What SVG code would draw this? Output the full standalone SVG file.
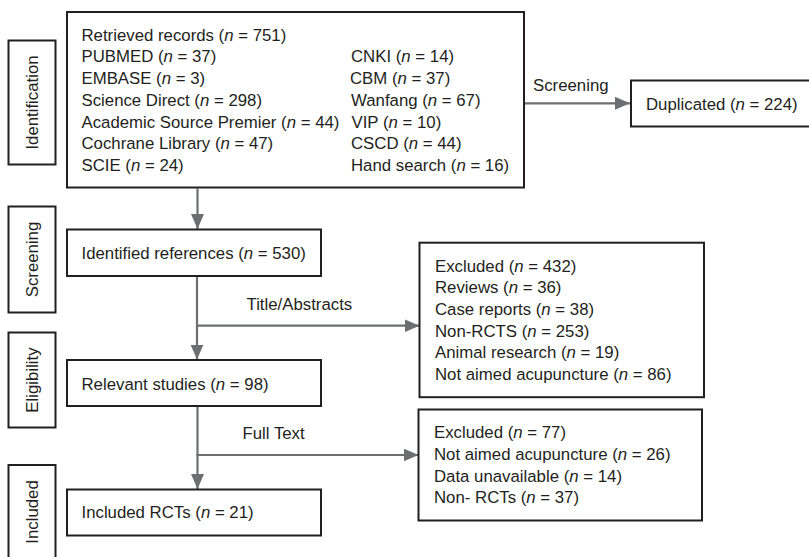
<svg xmlns="http://www.w3.org/2000/svg" width="809" height="557" viewBox="0 0 809 557">
<defs>
<style>
.box{fill:#fff;stroke:#231f20;stroke-width:2}
.t{font-family:"Liberation Sans",Arial,sans-serif;font-size:16.8px;fill:#231f20}
.i{font-style:italic}
.c{fill:none;stroke:#6d6e71;stroke-width:2.2}
</style>
<marker id="ah" markerUnits="userSpaceOnUse" markerWidth="16" markerHeight="14" refX="15" refY="6.5" orient="auto">
<path d="M0,0 L15,6.5 L0,13 Z" fill="#6d6e71"/>
</marker>
</defs>
<rect width="809" height="557" fill="#fff"/>

<g id="connectors">
<line class="c" x1="525" y1="103.3" x2="630" y2="103.3" marker-end="url(#ah)"/>
<line class="c" x1="197.5" y1="188.5" x2="197.5" y2="229" marker-end="url(#ah)"/>
<line class="c" x1="197" y1="276.5" x2="197" y2="359.5" marker-end="url(#ah)"/>
<line class="c" x1="196" y1="325.7" x2="419.5" y2="325.7" marker-end="url(#ah)"/>
<line class="c" x1="197.5" y1="406.5" x2="197.5" y2="489" marker-end="url(#ah)"/>
<line class="c" x1="196.5" y1="455" x2="418.5" y2="455" marker-end="url(#ah)"/>
<text class="t" x="533" y="91">Screening</text>
<text class="t" x="246.5" y="310">Title/Abstracts</text>
<text class="t" x="242.5" y="439">Full Text</text>
</g>

<g id="stage-identification">
<rect class="box" x="8.5" y="40.5" width="47" height="124"/>
<text class="t" transform="translate(37.5,102.5) rotate(-90)" text-anchor="middle">Identification</text>
</g>
<g id="stage-screening">
<rect class="box" x="8.5" y="206.5" width="47" height="106"/>
<text class="t" transform="translate(37.5,259.5) rotate(-90)" text-anchor="middle">Screening</text>
</g>
<g id="stage-eligibility">
<rect class="box" x="8.5" y="332.5" width="47" height="95"/>
<text class="t" transform="translate(37.5,380) rotate(-90)" text-anchor="middle">Eligibility</text>
</g>
<g id="stage-included">
<rect class="box" x="8.5" y="465" width="47" height="100"/>
<text class="t" transform="translate(37.5,512) rotate(-90)" text-anchor="middle">Included</text>
</g>

<g id="retrieved">
<rect class="box" x="67" y="12" width="457" height="175.5"/>
<text class="t" x="81.5" y="40.7">Retrieved records (<tspan class="i">n</tspan> = 751)</text>
<text class="t" x="81.5" y="62.4">PUBMED (<tspan class="i">n</tspan> = 37)</text>
<text class="t" x="81.5" y="84.1">EMBASE (<tspan class="i">n</tspan> = 3)</text>
<text class="t" x="81.5" y="105.8">Science Direct (<tspan class="i">n</tspan> = 298)</text>
<text class="t" x="81.5" y="127.5">Academic Source Premier (<tspan class="i">n</tspan> = 44)</text>
<text class="t" x="81.5" y="149.2">Cochrane Library (<tspan class="i">n</tspan> = 47)</text>
<text class="t" x="81.5" y="170.9">SCIE (<tspan class="i">n</tspan> = 24)</text>
<text class="t" x="351" y="62.4">CNKI (<tspan class="i">n</tspan> = 14)</text>
<text class="t" x="350" y="84.1">CBM (<tspan class="i">n</tspan> = 37)</text>
<text class="t" x="351" y="105.8">Wanfang (<tspan class="i">n</tspan> = 67)</text>
<text class="t" x="351.5" y="127.5">VIP (<tspan class="i">n</tspan> = 10)</text>
<text class="t" x="351" y="149.2">CSCD (<tspan class="i">n</tspan> = 44)</text>
<text class="t" x="351" y="170.9">Hand search (<tspan class="i">n</tspan> = 16)</text>
</g>

<g id="duplicated">
<rect class="box" x="631" y="80.5" width="190" height="46"/>
<text class="t" x="646" y="110">Duplicated (<tspan class="i">n</tspan> = 224)</text>
</g>

<g id="identified">
<rect class="box" x="67" y="229.5" width="254" height="46.5"/>
<text class="t" x="81.5" y="259">Identified references (<tspan class="i">n</tspan> = 530)</text>
</g>

<g id="excluded1">
<rect class="box" x="419.5" y="242.7" width="284.5" height="154.5"/>
<text class="t" x="435" y="271.5">Excluded (<tspan class="i">n</tspan> = 432)</text>
<text class="t" x="435" y="293.2">Reviews (<tspan class="i">n</tspan> = 36)</text>
<text class="t" x="435" y="314.9">Case reports (<tspan class="i">n</tspan> = 38)</text>
<text class="t" x="435" y="336.6">Non-RCTS (<tspan class="i">n</tspan> = 253)</text>
<text class="t" x="435" y="358.3">Animal research (<tspan class="i">n</tspan> = 19)</text>
<text class="t" x="435" y="380">Not aimed acupuncture (<tspan class="i">n</tspan> = 86)</text>
</g>

<g id="relevant">
<rect class="box" x="67" y="360" width="254" height="46"/>
<text class="t" x="81.5" y="390">Relevant studies (<tspan class="i">n</tspan> = 98)</text>
</g>

<g id="excluded2">
<rect class="box" x="418.5" y="409.5" width="283.5" height="111"/>
<text class="t" x="434" y="438.3">Excluded (<tspan class="i">n</tspan> = 77)</text>
<text class="t" x="434" y="460">Not aimed acupuncture (<tspan class="i">n</tspan> = 26)</text>
<text class="t" x="434" y="481.7">Data unavailable (<tspan class="i">n</tspan> = 14)</text>
<text class="t" x="434" y="503.3">Non- RCTs (<tspan class="i">n</tspan> = 37)</text>
</g>

<g id="included">
<rect class="box" x="67" y="489.5" width="254" height="46"/>
<text class="t" x="81.5" y="518">Included RCTs (<tspan class="i">n</tspan> = 21)</text>
</g>
</svg>
